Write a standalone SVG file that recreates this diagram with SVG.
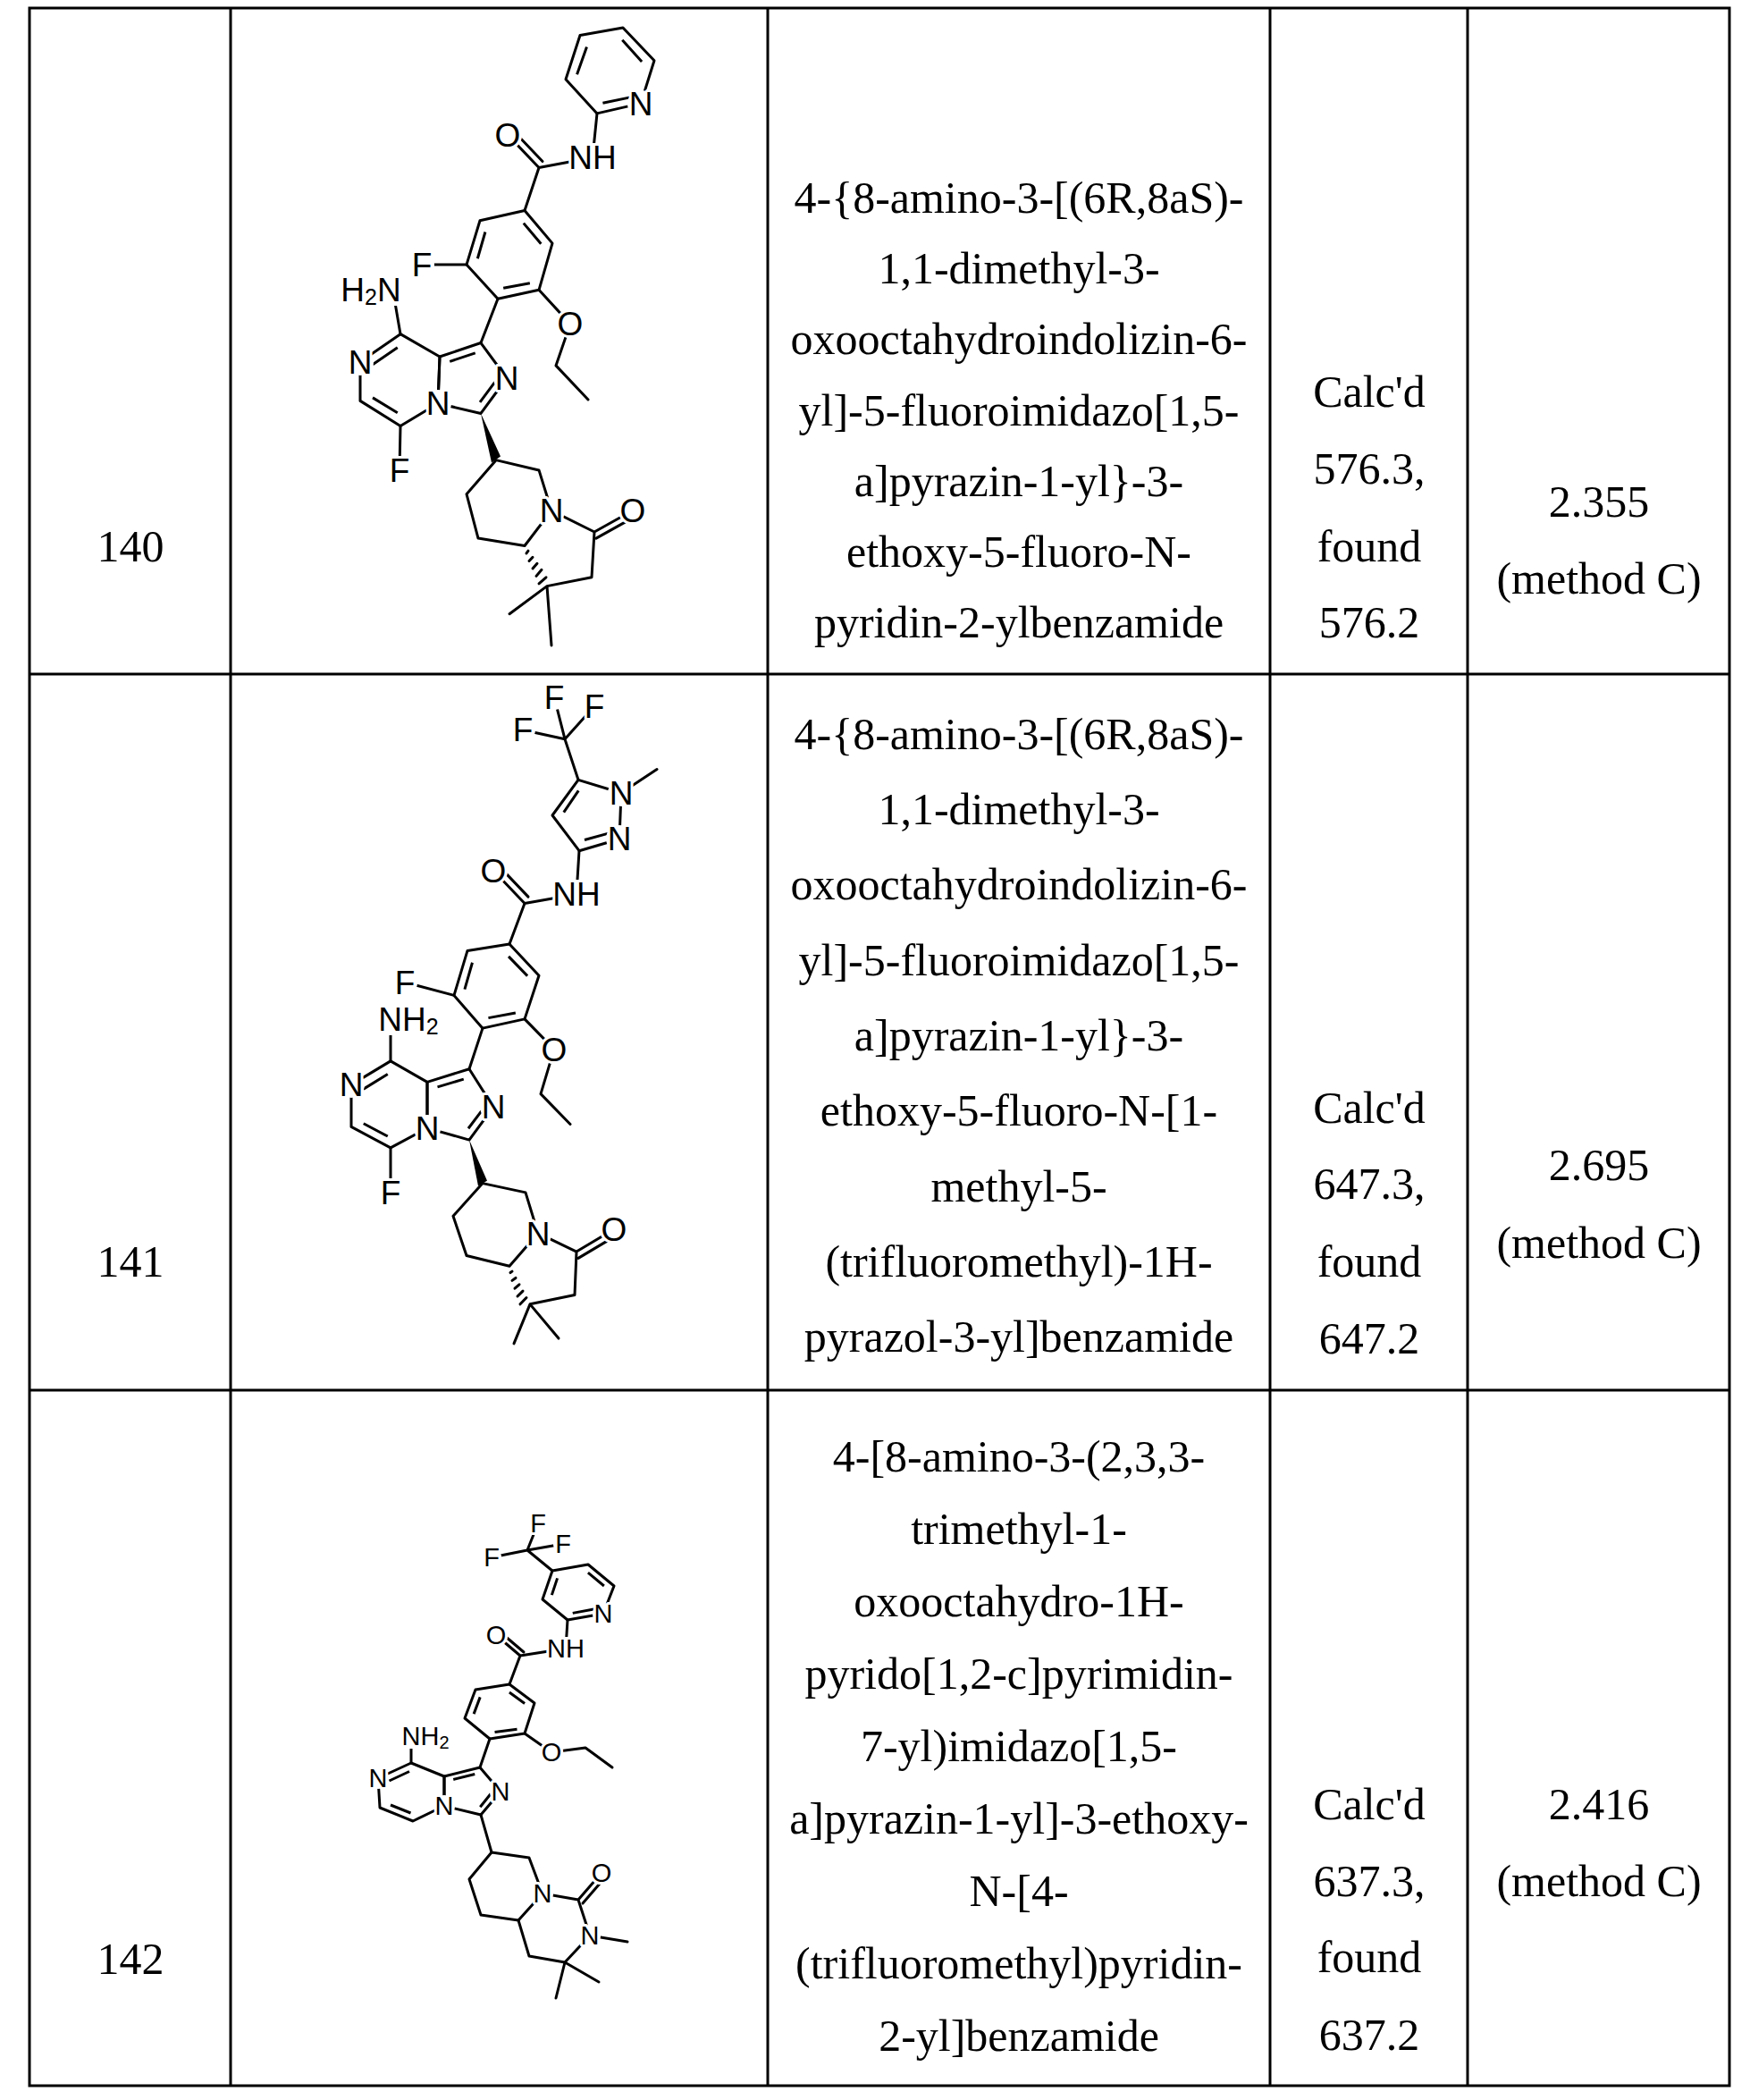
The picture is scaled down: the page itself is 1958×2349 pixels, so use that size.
<svg xmlns="http://www.w3.org/2000/svg" width="1958" height="2349" viewBox="0 0 1958 2349">
<style>
.b{stroke:#000;stroke-width:3;fill:none;stroke-linecap:round;stroke-linejoin:round;vector-effect:non-scaling-stroke}
.i{stroke:#000;stroke-width:3;fill:none;vector-effect:non-scaling-stroke}
.g{stroke:#000;stroke-width:3}
.t{font-family:"Liberation Sans",serif;font-family:"Liberation Serif",serif;font-size:50px;text-anchor:middle;fill:#000}
.a{font-family:"Liberation Sans",Arial,sans-serif;font-size:37px;text-anchor:middle;dominant-baseline:central;fill:#000;stroke:#fff;stroke-width:6;paint-order:stroke;stroke-linejoin:round}
.s{font-size:29px}
.w{fill:#fff}
</style>
<g id="grid">
<rect x="33" y="9" width="1902" height="2324" fill="none" class="g"/>
<line x1="258" y1="9" x2="258" y2="2333" class="g"/>
<line x1="859" y1="9" x2="859" y2="2333" class="g"/>
<line x1="1421" y1="9" x2="1421" y2="2333" class="g"/>
<line x1="1642" y1="9" x2="1642" y2="2333" class="g"/>
<line x1="33" y1="754" x2="1935" y2="754" class="g"/>
<line x1="33" y1="1555" x2="1935" y2="1555" class="g"/>
</g>
<g id="row140">
<text class="t" x="146" y="628">140</text>
<text class="t" x="1140" y="238">4-{8-amino-3-[(6R,8aS)-</text>
<text class="t" x="1140" y="317">1,1-dimethyl-3-</text>
<text class="t" x="1140" y="396">oxooctahydroindolizin-6-</text>
<text class="t" x="1140" y="476">yl]-5-fluoroimidazo[1,5-</text>
<text class="t" x="1140" y="555">a]pyrazin-1-yl}-3-</text>
<text class="t" x="1140" y="634">ethoxy-5-fluoro-N-</text>
<text class="t" x="1140" y="713">pyridin-2-ylbenzamide</text>
<text class="t" x="1532" y="455">Calc'd</text>
<text class="t" x="1532" y="541">576.3,</text>
<text class="t" x="1532" y="628">found</text>
<text class="t" x="1532" y="713">576.2</text>
<text class="t" x="1789" y="578">2.355</text>
<text class="t" x="1789" y="664">(method C)</text>
</g>
<g id="row141">
<text class="t" x="146" y="1428">141</text>
<text class="t" x="1140" y="838">4-{8-amino-3-[(6R,8aS)-</text>
<text class="t" x="1140" y="922">1,1-dimethyl-3-</text>
<text class="t" x="1140" y="1006">oxooctahydroindolizin-6-</text>
<text class="t" x="1140" y="1091">yl]-5-fluoroimidazo[1,5-</text>
<text class="t" x="1140" y="1175">a]pyrazin-1-yl}-3-</text>
<text class="t" x="1140" y="1259">ethoxy-5-fluoro-N-[1-</text>
<text class="t" x="1140" y="1344">methyl-5-</text>
<text class="t" x="1140" y="1428">(trifluoromethyl)-1H-</text>
<text class="t" x="1140" y="1512">pyrazol-3-yl]benzamide</text>
<text class="t" x="1532" y="1256">Calc'd</text>
<text class="t" x="1532" y="1341">647.3,</text>
<text class="t" x="1532" y="1428">found</text>
<text class="t" x="1532" y="1514">647.2</text>
<text class="t" x="1789" y="1320">2.695</text>
<text class="t" x="1789" y="1407">(method C)</text>
</g>
<g id="row142">
<text class="t" x="146" y="2208">142</text>
<text class="t" x="1140" y="1646">4-[8-amino-3-(2,3,3-</text>
<text class="t" x="1140" y="1727">trimethyl-1-</text>
<text class="t" x="1140" y="1808">oxooctahydro-1H-</text>
<text class="t" x="1140" y="1889">pyrido[1,2-c]pyrimidin-</text>
<text class="t" x="1140" y="1970">7-yl)imidazo[1,5-</text>
<text class="t" x="1140" y="2051">a]pyrazin-1-yl]-3-ethoxy-</text>
<text class="t" x="1140" y="2132">N-[4-</text>
<text class="t" x="1140" y="2213">(trifluoromethyl)pyridin-</text>
<text class="t" x="1140" y="2294">2-yl]benzamide</text>
<text class="t" x="1532" y="2035">Calc'd</text>
<text class="t" x="1532" y="2121">637.3,</text>
<text class="t" x="1532" y="2206">found</text>
<text class="t" x="1532" y="2293">637.2</text>
<text class="t" x="1789" y="2035">2.416</text>
<text class="t" x="1789" y="2121">(method C)</text>
</g>
<g id="connectors">
<g id="bonds140" transform="scale(1,1.41)">
<polygon class="b" points="649,28 697,22 732,48 717,82 668,90 633,63"/>
<g transform="translate(683,56) scale(0.78) translate(-683,-56)"><path class="i" d="M649,32 L635,60 M700,25 L728,47 M713,83 L672,89"/></g>
<path class="b" d="M668,90 L663,125 L603,133 L587,167 M603,133 L568,107"/>
<path class="b" d="M607,128 L572,102"/>
<polygon class="b" points="587,167 618,193 603,230 557,237 522,210 537,175"/>
<g transform="translate(571,202) scale(0.78) translate(-571,-202)"><path class="i" d="M590,170 L615,191 M599,231 L561,236 M524,206 L535,179"/></g>
<path class="b" d="M522,210 L472,210 M603,230 L638,257 L622,290 L658,317 M557,237 L538,272"/>
<polygon class="b" points="538,272 492,283 490,320 538,328 567,300"/>
<g transform="translate(525,301) scale(0.75) translate(-525,-301)"><path class="i" d="M534,273 L496,282 M541,325 L564,303"/></g>
<polygon class="b" points="448,265 403,287 403,318 448,338 490,320 492,283"/>
<g transform="translate(447,302) scale(0.75) translate(-447,-302)"><path class="i" d="M444,267 L407,285 M407,320 L444,336"/></g>
<path class="b" d="M448,265 L440,232 M448,338 L447,373"/>
<polygon points="538,328 550,367 560,362" fill="#000"/>
<polygon class="b" points="555,365 603,373 617,405 587,433 535,427 522,392"/>
<path class="b" d="M617,405 L665,422 L662,458 L612,465 L570,487 M612,465 L617,512 M665,422 L708,405"/>
<path class="b" d="M667,427 L710,410"/>
<path class="b" d="M591,437 L589,439 M596,442 L592,445 M601,447 L596,451 M606,452 L600,457 M611,458 L603,463"/>
</g>
<g id="bonds141" transform="matrix(1,0,0,1.47,0,-352.2)">
<path class="b" d="M632,802 L620,770 M632,802 L665,777 M632,802 L585,795 M632,802 L647,833"/>
<polygon class="b" points="647,833 695,843 693,878 648,887 618,860"/>
<g transform="translate(660,860) scale(0.75) translate(-660,-860)"><path class="i" d="M643,835 L621,857 M652,885 L689,878"/></g>
<path class="b" d="M695,843 L735,825 M648,887 L645,920 L587,927 L570,958 M587,927 L552,902"/>
<path class="b" d="M591,922 L556,897"/>
<polygon class="b" points="570,958 603,982 587,1015 540,1022 508,997 523,963"/>
<g transform="translate(555,990) scale(0.78) translate(-555,-990)"><path class="i" d="M573,961 L600,980 M583,1016 L544,1021 M510,993 L521,967"/></g>
<path class="b" d="M508,997 L453,987 M587,1015 L620,1038 L605,1072 L638,1095 M540,1022 L525,1053"/>
<polygon class="b" points="525,1053 478,1063 478,1098 525,1107 552,1082"/>
<g transform="translate(512,1081) scale(0.75) translate(-512,-1081)"><path class="i" d="M521,1054 L482,1062 M528,1104 L549,1085"/></g>
<polygon class="b" points="437,1047 393,1065 393,1097 437,1113 478,1098 478,1063"/>
<g transform="translate(436,1081) scale(0.75) translate(-436,-1081)"><path class="i" d="M433,1049 L397,1064 M397,1099 L433,1112"/></g>
<path class="b" d="M437,1047 L437,1018 M437,1113 L437,1147"/>
<polygon points="525,1107 535,1142 545,1138" fill="#000"/>
<polygon class="b" points="540,1140 588,1147 602,1178 570,1203 522,1195 507,1165"/>
<path class="b" d="M602,1178 L645,1192 L643,1225 L593,1232 L575,1262 M593,1232 L625,1258 M645,1192 L687,1175"/>
<path class="b" d="M647,1197 L689,1180"/>
<path class="b" d="M573,1207 L571,1208 M577,1212 L573,1214 M581,1217 L576,1220 M585,1222 L579,1226 M589,1227 L582,1232"/>
</g>
<g id="bonds142">
<g transform="translate(0,47)">
<path class="b" d="M590,1687 L602,1657 M590,1687 L630,1680 M590,1687 L550,1695 M590,1687 L618,1710"/>
<polygon class="b" points="618,1710 658,1703 687,1727 675,1758 635,1765 607,1742"/>
<g transform="translate(647,1734) scale(0.78) translate(-647,-1734)"><path class="i" d="M617,1714 L609,1738 M661,1706 L684,1725 M671,1758 L639,1764"/></g>
<path class="b" d="M635,1765 L633,1797 L582,1805 L570,1837 M582,1805 L555,1782"/>
<path class="b" d="M586,1801 L559,1778"/>
<polygon class="b" points="570,1837 598,1858 587,1892 548,1898 520,1875 532,1843"/>
<g transform="translate(559,1867) scale(0.78) translate(-559,-1867)"><path class="i" d="M573,1840 L595,1856 M584,1893 L552,1897 M522,1871 L531,1847"/></g>
<path class="b" d="M587,1892 L617,1913 L655,1908 L685,1930 M548,1898 L537,1930"/>
<polygon class="b" points="537,1930 497,1940 497,1973 538,1983 560,1957"/>
<g transform="translate(526,1957) scale(0.75) translate(-526,-1957)"><path class="i" d="M533,1931 L501,1939 M541,1980 L557,1960"/></g>
<polygon class="b" points="460,1925 423,1942 425,1975 462,1990 497,1973 497,1940"/>
<g transform="translate(461,1957) scale(0.75) translate(-461,-1957)"><path class="i" d="M457,1927 L427,1941 M429,1977 L459,1989"/></g>
<path class="b" d="M460,1925 L460,1900"/>
</g>
<path class="b" d="M538,2030 L550,2072"/>
<g transform="translate(0,-55)">
<polygon class="b" points="550,2127 592,2133 607,2173 580,2203 538,2197 525,2157"/>
<path class="b" d="M607,2173 L647,2180 L660,2220 L632,2250 L592,2243 L580,2203 M660,2220 L702,2227 M632,2250 L622,2290 M632,2250 L670,2272 M647,2180 L673,2150"/>
<path class="b" d="M652,2184 L677,2155"/>
</g>
</g>
</g>
<g id="labels140">
<circle class="w" cx="717" cy="116" r="15"/><text class="a" x="717" y="116">N</text>
<circle class="w" cx="568" cy="151" r="16"/><text class="a" x="568" y="151">O</text>
<rect class="w" x="638" y="160" width="52" height="32"/><text class="a" x="663" y="176">NH</text>
<circle class="w" cx="472" cy="296" r="14"/><text class="a" x="472" y="296">F</text>
<circle class="w" cx="638" cy="362" r="16"/><text class="a" x="638" y="362">O</text>
<rect class="w" x="382" y="306" width="68" height="36"/><text class="a" x="415" y="324">H<tspan font-size="25" dy="8">2</tspan><tspan dy="-8">N</tspan></text>
<circle class="w" cx="403" cy="405" r="15"/><text class="a" x="403" y="405">N</text>
<circle class="w" cx="490" cy="451" r="15"/><text class="a" x="490" y="451">N</text>
<circle class="w" cx="567" cy="423" r="15"/><text class="a" x="567" y="423">N</text>
<circle class="w" cx="447" cy="526" r="14"/><text class="a" x="447" y="526">F</text>
<circle class="w" cx="617" cy="571" r="15"/><text class="a" x="617" y="571">N</text>
<circle class="w" cx="708" cy="571" r="16"/><text class="a" x="708" y="571">O</text>
</g>
<g id="labels141">
<circle class="w" cx="620" cy="780" r="14"/><text class="a" x="620" y="780">F</text>
<circle class="w" cx="665" cy="790" r="14"/><text class="a" x="665" y="790">F</text>
<circle class="w" cx="585" cy="816" r="14"/><text class="a" x="585" y="816">F</text>
<circle class="w" cx="695" cy="887" r="15"/><text class="a" x="695" y="887">N</text>
<circle class="w" cx="693" cy="938" r="15"/><text class="a" x="693" y="938">N</text>
<rect class="w" x="620" y="984" width="52" height="32"/><text class="a" x="645" y="1000">NH</text>
<circle class="w" cx="552" cy="974" r="16"/><text class="a" x="552" y="974">O</text>
<circle class="w" cx="453" cy="1099" r="14"/><text class="a" x="453" y="1099">F</text>
<circle class="w" cx="620" cy="1174" r="16"/><text class="a" x="620" y="1174">O</text>
<rect class="w" x="422" y="1122" width="70" height="36"/><text class="a" x="457" y="1140">NH<tspan font-size="25" dy="8">2</tspan></text>
<circle class="w" cx="393" cy="1213" r="15"/><text class="a" x="393" y="1213">N</text>
<circle class="w" cx="478" cy="1262" r="15"/><text class="a" x="478" y="1262">N</text>
<circle class="w" cx="552" cy="1238" r="15"/><text class="a" x="552" y="1238">N</text>
<circle class="w" cx="437" cy="1334" r="14"/><text class="a" x="437" y="1334">F</text>
<circle class="w" cx="602" cy="1380" r="15"/><text class="a" x="602" y="1380">N</text>
<circle class="w" cx="687" cy="1375" r="16"/><text class="a" x="687" y="1375">O</text>
</g>
<g id="labels142">
<circle class="w" cx="602" cy="1704" r="11"/><text class="a s" x="602" y="1704">F</text>
<circle class="w" cx="630" cy="1727" r="11"/><text class="a s" x="630" y="1727">F</text>
<circle class="w" cx="550" cy="1742" r="11"/><text class="a s" x="550" y="1742">F</text>
<circle class="w" cx="675" cy="1805" r="12"/><text class="a s" x="675" y="1805">N</text>
<rect class="w" x="613" y="1831" width="41" height="26"/><text class="a s" x="633" y="1844">NH</text>
<circle class="w" cx="555" cy="1829" r="13"/><text class="a s" x="555" y="1829">O</text>
<circle class="w" cx="617" cy="1960" r="13"/><text class="a s" x="617" y="1960">O</text>
<rect class="w" x="448" y="1928" width="56" height="28"/><text class="a s" x="476" y="1942">NH<tspan font-size="20" dy="7">2</tspan></text>
<circle class="w" cx="423" cy="1989" r="12"/><text class="a s" x="423" y="1989">N</text>
<circle class="w" cx="497" cy="2020" r="12"/><text class="a s" x="497" y="2020">N</text>
<circle class="w" cx="560" cy="2004" r="12"/><text class="a s" x="560" y="2004">N</text>
<circle class="w" cx="607" cy="2118" r="12"/><text class="a s" x="607" y="2118">N</text>
<circle class="w" cx="673" cy="2095" r="13"/><text class="a s" x="673" y="2095">O</text>
<circle class="w" cx="660" cy="2165" r="12"/><text class="a s" x="660" y="2165">N</text>
</g>
</svg>
